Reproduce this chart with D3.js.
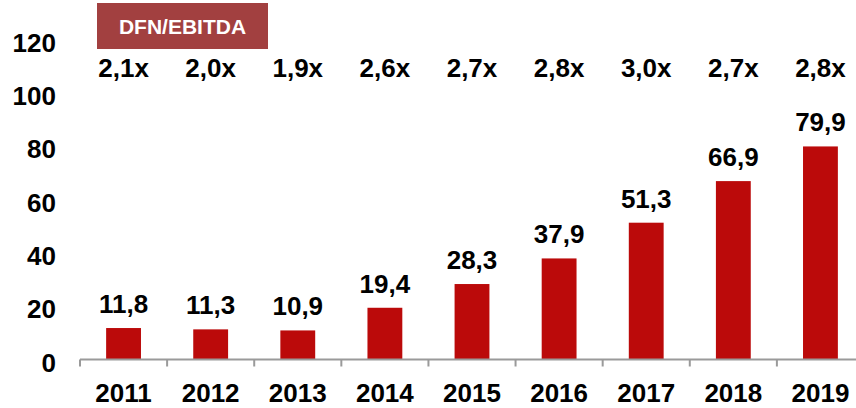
<!DOCTYPE html>
<html><head><meta charset="utf-8">
<script src="https://cdn.jsdelivr.net/npm/d3@7"></script>
<style>
html,body{margin:0;padding:0;background:#fff;}
text{font-family:"Liberation Sans",Arial,sans-serif;font-weight:bold;fill:#000;}
</style></head>
<body>
<svg id="chart" width="856" height="408"></svg>
<script>
const years = ["2011","2012","2013","2014","2015","2016","2017","2018","2019"];
const values = [11.8, 11.3, 10.9, 19.4, 28.3, 37.9, 51.3, 66.9, 79.9];
const ratios = ["2,1x","2,0x","1,9x","2,6x","2,7x","2,8x","3,0x","2,7x","2,8x"];
const yTicks = [0, 20, 40, 60, 80, 100, 120];
const boxTitle = "DFN/EBITDA";

const svg = d3.select("#chart");
const x = d3.scaleBand().domain(years).range([80, 864]).paddingInner(0.6).paddingOuter(0.3);
const y = d3.scaleLinear().domain([0, 120]).range([359.5, 39.5]);
const fmt = v => d3.format(".1f")(v).replace(".", ",");

// bars
svg.selectAll("rect.bar").data(values).join("rect")
  .attr("class","bar")
  .attr("x",(d,i)=>x(years[i]))
  .attr("width",x.bandwidth())
  .attr("y",d=>y(d))
  .attr("height",d=>y(0)-y(d))
  .attr("fill","#bb0a0a");

// x axis
const xb = d3.scaleBand().domain(years).range([80, 864]);
svg.append("line").attr("x1",80).attr("x2",864).attr("y1",y(0)).attr("y2",y(0))
  .attr("stroke","#9a9a9a").attr("stroke-width",2);
svg.selectAll("line.tick").data(years.concat(["end"])).join("line")
  .attr("class","tick")
  .attr("x1",(d,i)=>80+i*xb.bandwidth()).attr("x2",(d,i)=>80+i*xb.bandwidth())
  .attr("y1",y(0)).attr("y2",y(0)+7)
  .attr("stroke","#9a9a9a").attr("stroke-width",2);

// year labels
svg.selectAll("text.year").data(years).join("text")
  .attr("class","year")
  .attr("x",d=>x(d)+x.bandwidth()/2)
  .attr("y",402)
  .attr("text-anchor","middle")
  .attr("font-size",26)
  .text(d=>d);

// y labels
svg.selectAll("text.ytick").data(yTicks).join("text")
  .attr("class","ytick")
  .attr("x",56)
  .attr("y",d=>y(d)+3)
  .attr("dy","0.35em")
  .attr("text-anchor","end")
  .attr("font-size",26)
  .text(d=>d);

// value labels
svg.selectAll("text.val").data(values).join("text")
  .attr("class","val")
  .attr("x",(d,i)=>x(years[i])+x.bandwidth()/2)
  .attr("y",d=>y(d)-15)
  .attr("text-anchor","middle")
  .attr("font-size",26)
  .text(d=>fmt(d));

// ratio labels
svg.selectAll("text.ratio").data(ratios).join("text")
  .attr("class","ratio")
  .attr("x",(d,i)=>x(years[i])+x.bandwidth()/2)
  .attr("y",77)
  .attr("text-anchor","middle")
  .attr("font-size",26)
  .text(d=>d);

// title box
svg.append("rect").attr("x",97).attr("y",3).attr("width",171).attr("height",46).attr("fill","#a24040");
svg.append("text").attr("x",182.5).attr("y",34).attr("text-anchor","middle")
  .attr("font-size",21).style("fill","#fff").text(boxTitle);
</script>
</body></html>
